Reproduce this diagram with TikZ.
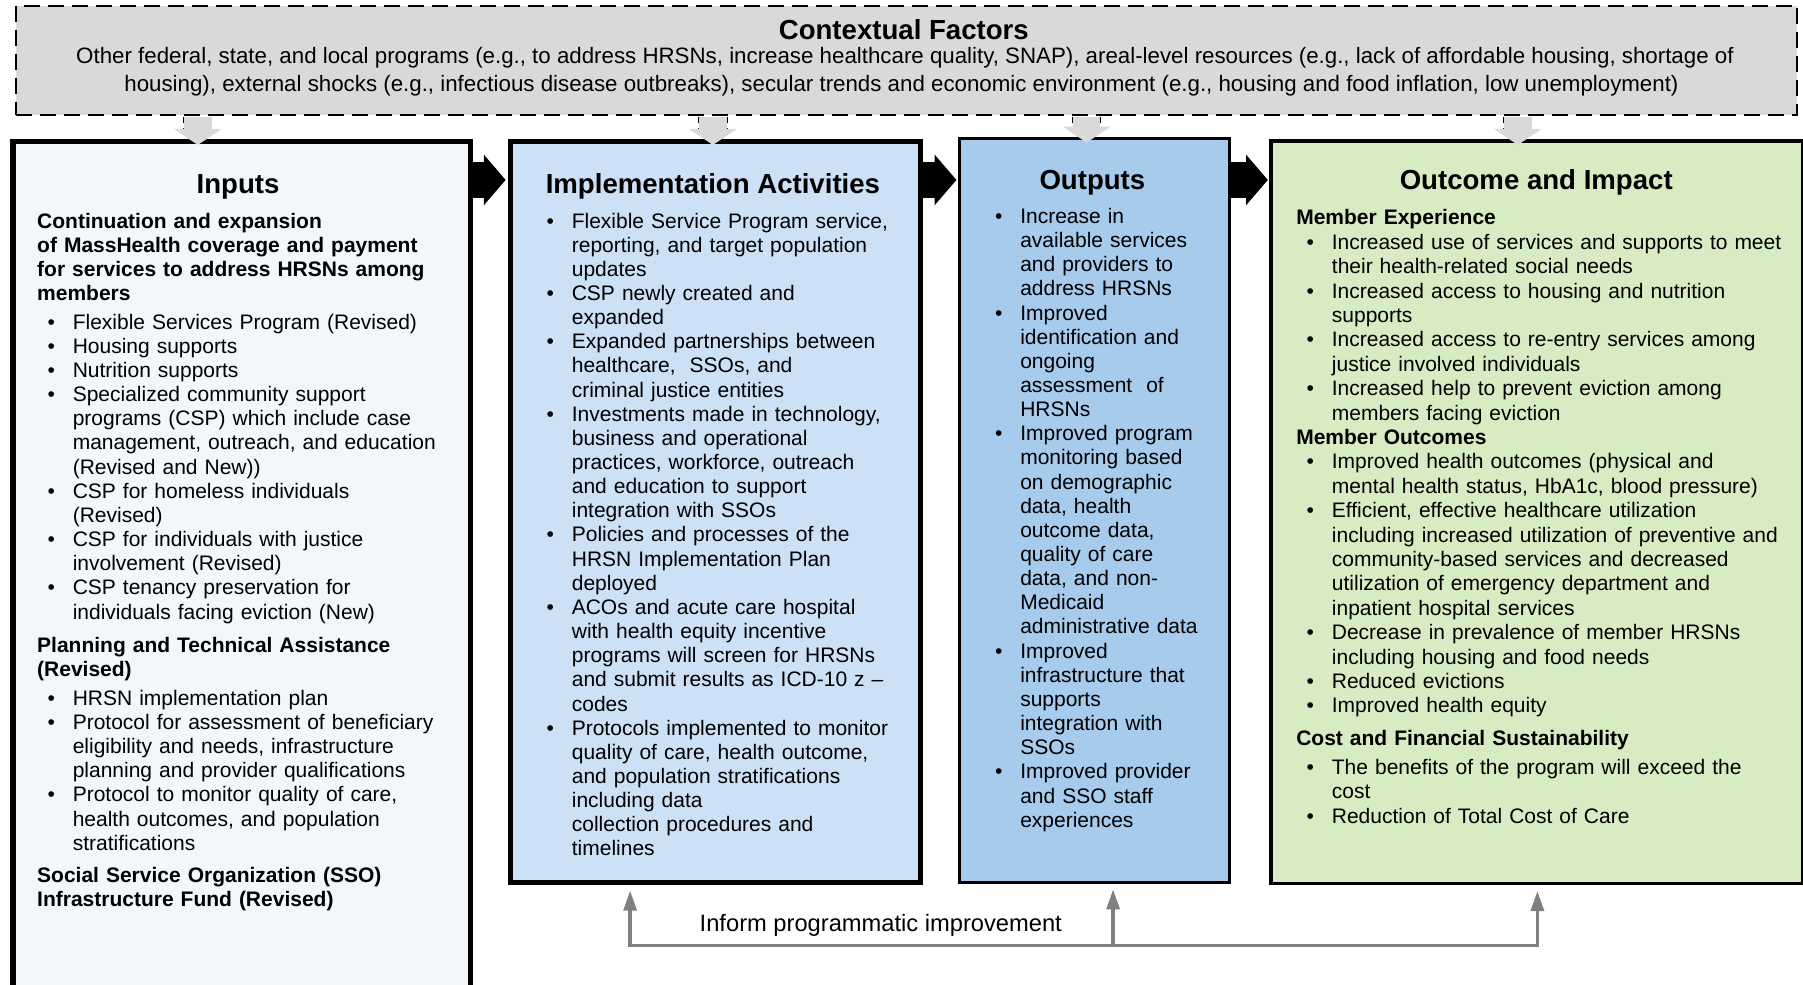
\documentclass[tikz,border=0pt]{standalone}
\usepackage{fontspec}
\setmainfont{Liberation Sans}
\usetikzlibrary{arrows.meta,calc}
\definecolor{ctxgray}{HTML}{D9D9D9}
\definecolor{inputsfill}{HTML}{F2F7FC}
\definecolor{implfill}{HTML}{CCE1F5}
\definecolor{outfill}{HTML}{A6CBEC}
\definecolor{ocfill}{HTML}{D8ECC4}
\definecolor{fbgray}{HTML}{808080}
\newcommand\bodyfont{\fontsize{10.5pt}{12.075pt}\selectfont}
\newcommand\ocfont{\fontsize{10.5pt}{12.2pt}\selectfont}
\newcommand\ctxfont{\fontsize{11.15pt}{13pt}\selectfont}
\newcommand\titlefont{\fontsize{13.8pt}{16pt}\selectfont\bfseries}
\newcommand\hd[1]{\par\noindent\strut\textbf{#1}\par}
\newcommand\bl[1]{\par\hangindent=17.8pt\hangafter=1\noindent\hbox to 17.8pt{\hspace{5.2pt}\textbullet\hss}\strut#1\par}
\tikzset{
  box/.style={draw=black, inner sep=0pt, anchor=north west},
  txt/.style={inner sep=0pt, anchor=north west, align=left, font=\bodyfont},
  ttl/.style={inner sep=0pt, anchor=base, font=\titlefont},
  ctxline/.style={inner sep=0pt, anchor=base, font=\ctxfont},
  blockarr/.style={line width=17.8pt, -{Triangle[length=10.9pt,width=24.7pt]}},
  grayarr/.style={draw=ctxgray, line width=13.8pt, -{Triangle[length=8pt,width=23.6pt]}},
  grayedge/.style={draw=black, line width=14.6pt, dash pattern=on 3pt off 2.5pt},
  fbline/.style={draw=fbgray, line width=1.7pt},
  fbarr/.style={draw=fbgray, line width=1.7pt, -{Triangle[length=10pt,width=6.5pt]}}
}
\begin{document}
\begin{tikzpicture}[x=0.575pt,y=-0.575pt]
\useasboundingbox (0,0) rectangle (1568,856.6);
% contextual factors
\node[box, fill=ctxgray, line width=1.1pt, dash pattern=on 8pt off 4pt,
      minimum width={1549*0.575pt}, minimum height={95*0.575pt}] (ctx) at (13,4) {};
\node[ttl] (ctxt) at (786,34) {Contextual Factors};
\node[ctxline] (ctx1) at (787,55.5) {Other federal, state, and local programs (e.g., to address HRSNs, increase healthcare quality, SNAP), areal-level resources (e.g., lack of affordable housing, shortage of};
\node[ctxline] (ctx2) at (784,79.5) {housing), external shocks (e.g., infectious disease outbreaks), secular trends and economic environment (e.g., housing and food inflation, low unemployment)};
% boxes
\node[box, fill=inputsfill, line width=2.6pt, minimum width={398*0.575pt}, minimum height={741*0.575pt}] (in) at (9,121) {};
\node[box, fill=implfill, line width=2.6pt, minimum width={356*0.575pt}, minimum height={644*0.575pt}] (impl) at (442,121) {};
\node[box, fill=outfill, line width=1.4pt, minimum width={235*0.575pt}, minimum height={647*0.575pt}] (out) at (833,119) {};
\node[box, fill=ocfill, line width=1.7pt, minimum width={462*0.575pt}, minimum height={646*0.575pt}] (oc) at (1104,121) {};
% titles
\node[ttl] (inT) at (207,168) {Inputs};
\node[ttl] (implT) at (620,168) {Implementation Activities};
\node[ttl] (outT) at (950,165) {Outputs};
\node[ttl] (ocT) at (1336,165) {Outcome and Impact};
% inputs text
\node[txt, text width=212pt] (inX) at (32,177) {%
\hd{Continuation and expansion\newline of MassHealth coverage and payment\newline for services to address HRSNs among\newline members}
\vspace{2.3pt}
\bl{Flexible Services Program (Revised)}
\bl{Housing supports}
\bl{Nutrition supports}
\bl{Specialized community support\newline programs (CSP) which include case\newline management, outreach, and education\newline (Revised and New))}
\bl{CSP for homeless individuals\newline (Revised)}
\bl{CSP for individuals with justice\newline involvement (Revised)}
\bl{CSP tenancy preservation for\newline individuals facing eviction (New)}
\vspace{4.6pt}
\hd{Planning and Technical Assistance\newline (Revised)}
\vspace{2.3pt}
\bl{HRSN implementation plan}
\bl{Protocol for assessment of beneficiary\newline eligibility and needs, infrastructure\newline planning and provider qualifications}
\bl{Protocol to monitor quality of care,\newline health outcomes, and population\newline stratifications}
\vspace{4pt}
\hd{Social Service Organization (SSO)\newline Infrastructure Fund (Revised)}};
% implementation text
\node[txt, text width=192pt] (implX) at (466,177) {%
\bl{Flexible Service Program service,\newline reporting, and target population\newline updates}
\bl{CSP newly created and\newline expanded}
\bl{Expanded partnerships between\newline healthcare,\ \ SSOs, and\newline criminal justice entities}
\bl{Investments made in technology,\newline business and operational\newline practices, workforce, outreach\newline and education to support\newline integration with SSOs}
\bl{Policies and processes of the\newline HRSN Implementation Plan\newline deployed}
\bl{ACOs and acute care hospital\newline with health equity incentive\newline programs will screen for HRSNs\newline and submit results as ICD-10 z –\newline codes}
\bl{Protocols implemented to monitor\newline quality of care, health outcome,\newline and population stratifications\newline including data\newline collection procedures and\newline timelines}};
% outputs text
\node[txt, text width=120pt] (outX) at (856,173) {%
\bl{Increase in\newline available services\newline and providers to\newline address HRSNs}
\bl{Improved\newline identification and\newline ongoing\newline assessment\ \ of\newline HRSNs}
\bl{Improved program\newline monitoring based\newline on demographic\newline data, health\newline outcome data,\newline quality of care\newline data, and non-\newline Medicaid\newline administrative data}
\bl{Improved\newline infrastructure that\newline supports\newline integration with\newline SSOs}
\bl{Improved provider\newline and SSO staff\newline experiences}};
% outcome text
\node[txt, text width=252pt, font=\ocfont] (ocX) at (1127,174) {%
\hd{Member Experience}
\bl{Increased use of services and supports to meet\newline their health-related social needs}
\bl{Increased access to housing and nutrition\newline supports}
\bl{Increased access to re-entry services among\newline justice involved individuals}
\bl{Increased help to prevent eviction among\newline members facing eviction}
\hd{Member Outcomes}
\bl{Improved health outcomes (physical and\newline mental health status, HbA1c, blood pressure)}
\bl{Efficient, effective healthcare utilization\newline including increased utilization of preventive and\newline community-based services and decreased\newline utilization of emergency department and\newline inpatient hospital services}
\bl{Decrease in prevalence of member HRSNs\newline including housing and food needs}
\bl{Reduced evictions}
\bl{Improved health equity}
\vspace{4pt}
\hd{Cost and Financial Sustainability}
\vspace{2.3pt}
\bl{The benefits of the program will exceed the\newline cost}
\bl{Reduction of Total Cost of Care}};
% black block arrows
\coordinate (arry) at (0,156.5);
\draw[blockarr] (in.east |- arry) -- ([xshift=-1.3pt]impl.west |- arry);
\draw[blockarr] (impl.east |- arry) -- ([xshift=-0.7pt]out.west |- arry);
\draw[blockarr] (out.east |- arry) -- ([xshift=-0.8pt]oc.west |- arry);
% gray arrows from contextual factors
\coordinate (g1) at (172,0);
\coordinate (g2) at (620,0);
\coordinate (g3) at (945,0);
\coordinate (g4) at (1320,0);
\foreach \g/\b in {g1/in,g2/impl,g3/out,g4/oc}{
  \draw[grayedge] ([yshift=-0.6pt]ctx.south -| \g) -- ([yshift=-7.5pt]ctx.south -| \g);
  \draw[grayarr] ([yshift=-0.6pt]ctx.south -| \g) -- ([yshift=-2.9pt]\b.north -| \g);
}
% feedback loop
\coordinate (fb1) at (548,822);
\coordinate (fb2) at (968,822);
\coordinate (fb3) at (1337,822);
\draw[fbline] ([xshift=-0.85pt]fb1) -- ([xshift=0.85pt]fb3);
\draw[fbarr] (fb1) -- ([yshift=-2.9pt]impl.south -| fb1);
\draw[fbarr] (fb2) -- ([yshift=-2.9pt]out.south -| fb2);
\draw[fbarr] (fb3) -- ([yshift=-2.9pt]oc.south -| fb3);
\node[inner sep=0pt, anchor=base, font=\fontsize{11.85pt}{13.5pt}\selectfont] (fbl) at (766,810) {Inform programmatic improvement};
\end{tikzpicture}
\end{document}
